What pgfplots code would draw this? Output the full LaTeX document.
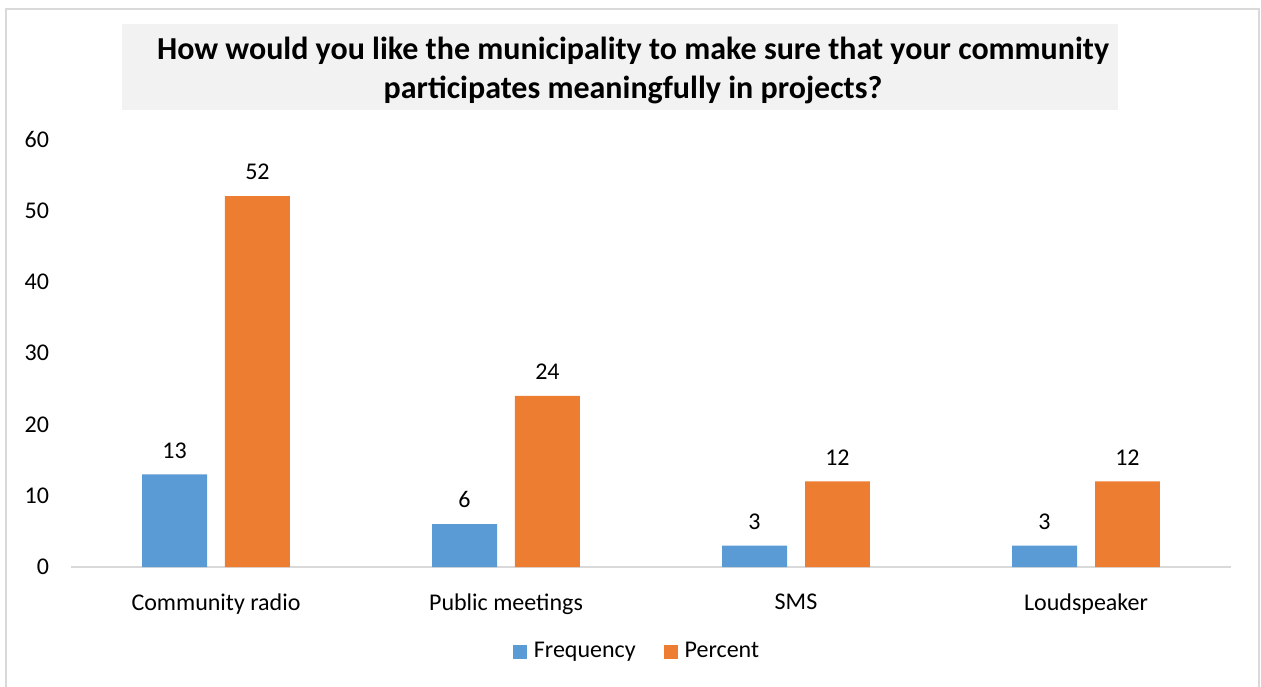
\documentclass[border=0pt]{standalone}
\usepackage{pgfplots}
\pgfplotsset{compat=1.18}
\usepackage{fontspec}
\setmainfont{Carlito}
\definecolor{bblue}{HTML}{5B9BD5}
\definecolor{borange}{HTML}{ED7D31}
\definecolor{linegray}{HTML}{D9D9D9}
\definecolor{titlebg}{HTML}{F2F2F2}
\begin{document}
\begin{tikzpicture}
\useasboundingbox (-35.5pt,-59.5pt) rectangle (595pt,283.5pt);
\begin{scope}
\clip (-35.5pt,-59.5pt) rectangle (595pt,283.5pt);
\draw[linegray, line width=1pt] (-32.5pt,-70pt) rectangle (594pt,279pt);
\end{scope}
\fill[titlebg] (25.5pt,228.5pt) rectangle (523.5pt,271.5pt);
\node[align=center, font=\fontsize{16}{19.5}\selectfont\bfseries] at (281pt,248.5pt)
  {How would you like the municipality to make sure that your community\\participates meaningfully in projects?};
\begin{axis}[
  at={(0pt,0pt)}, anchor=south west, scale only axis,
  width=580pt, height=214pt,
  xmin=-0.5, xmax=3.5, ymin=0, ymax=60,
  ytick={0,10,20,30,40,50,60},
  xtick={0,1,2,3},
  xticklabels={Community radio,Public meetings,SMS,Loudspeaker},
  axis lines*=left,
  y axis line style={draw=none},
  x axis line style={linegray, line width=1pt},
  tick style={draw=none},
  ticklabel style={font=\fontsize{12}{14}\selectfont},
  /pgf/number format/assume math mode=true,
  yticklabel style={xshift=-7.5pt},
  xticklabel style={yshift=-5.5pt},
  ybar, bar width=0.224,
  nodes near coords,
  every node near coord/.append style={font=\fontsize{12}{14}\selectfont, black, yshift=4.5pt},
  legend style={at={(axis description cs:0.4888,-0.198)}, anchor=center, draw=none,
    font=\fontsize{12}{14}\selectfont, legend columns=2,
    /tikz/every even column/.append style={column sep=12pt},
    /tikz/every odd column/.append style={column sep=1.5pt}},
  legend image code/.code={\fill[#1] (0pt,-3.5pt) rectangle (7pt,3.5pt);},
]
\addplot[fill=bblue, draw=none, bar shift=-0.143] coordinates {(0,13) (1,6) (2,3) (3,3)};
\addplot[fill=borange, draw=none, bar shift=0.143] coordinates {(0,52) (1,24) (2,12) (3,12)};
\legend{Frequency,Percent}
\end{axis}
\end{tikzpicture}
\end{document}
